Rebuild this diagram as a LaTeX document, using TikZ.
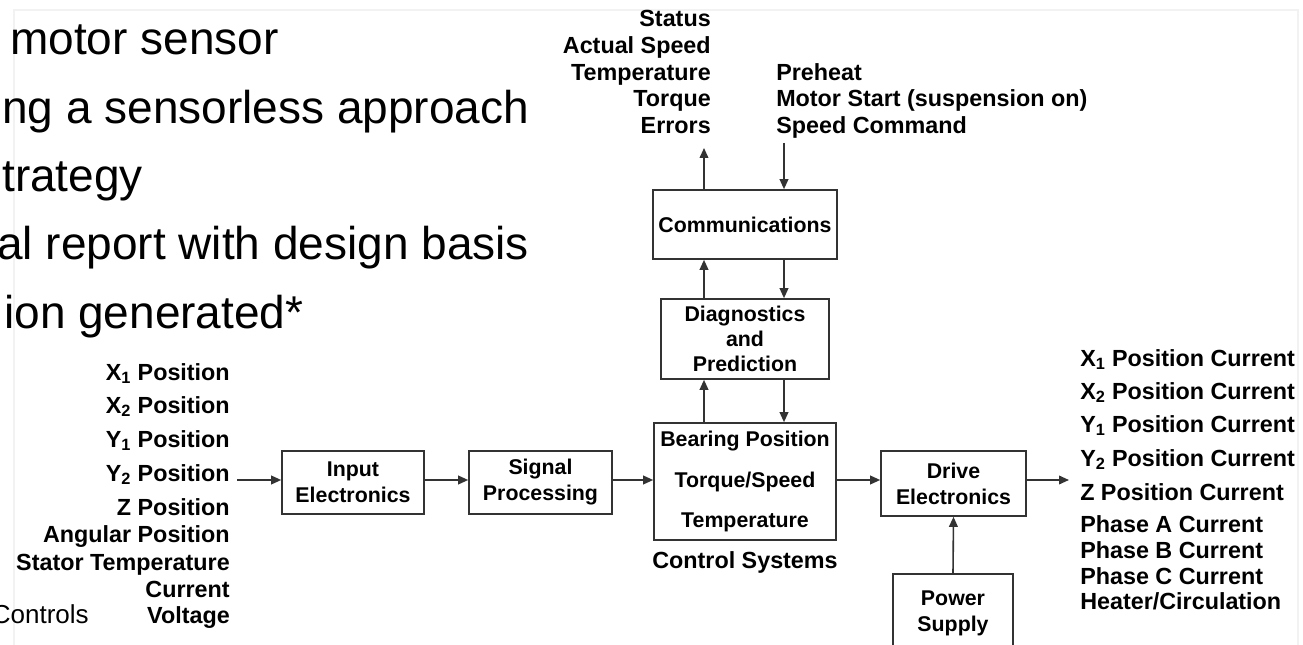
\documentclass[tikz,border=0pt]{standalone}
\usepackage{fontspec}
\setmainfont{Liberation Sans}
\usetikzlibrary{arrows.meta}
\begin{document}
\begin{tikzpicture}[x=0.75pt,y=-0.75pt,
  lbl/.style={font=\fontsize{17.5}{21}\selectfont\bfseries, inner sep=0pt, text=black},
  blk/.style={draw=black!80, line width=1.2pt, font=\fontsize{16}{19.5}\selectfont\bfseries, align=center, inner sep=0pt},
  bw/.style={minimum width=0.75*#1pt},
  bh/.style={minimum height=0.75*#1pt},
  arr/.style={draw=black!80, line width=1.2pt, -{Triangle[length=7.5pt,width=6.5pt]}},
  slide/.style={font=\fontsize{34.5}{40}\selectfont, inner sep=0pt, anchor=base west},
  faint/.style={draw=black!5, line width=0.8pt}]
\useasboundingbox (0,0) rectangle (1303,645);
% faint slide frame
\draw[faint] (14,645) -- (14,10) -- (1298,10) -- (1298,645);
% slide text (cropped)
\node[slide] (s1) at (10,55) {motor sensor};
\node[slide] (s2) at (2,123.5) {ng a sensorless approach};
\node[slide] (s3) at (2,192) {trategy};
\node[slide] (s4) at (-3,260) {al report with design basis};
\node[slide] (s5) at (4,329) {ion generated*};
\node[font=\fontsize{19.5}{23}\selectfont, inner sep=0pt, anchor=base east] (ctl) at (89,623) {Controls};
% input labels
\node[lbl,anchor=base east] (lx1) at (230,380) {X\textsubscript{1} Position};
\node[lbl,anchor=base east] (lx2) at (230,413) {X\textsubscript{2} Position};
\node[lbl,anchor=base east] (ly1) at (230,447) {Y\textsubscript{1} Position};
\node[lbl,anchor=base east] (ly2) at (230,481) {Y\textsubscript{2} Position};
\node[lbl,anchor=base east] (lz) at (230,515) {Z Position};
\node[lbl,anchor=base east] (lang) at (230,542) {Angular Position};
\node[lbl,anchor=base east] (lst) at (230,570) {Stator Temperature};
\node[lbl,anchor=base east] (lcur) at (230,597) {Current};
\node[lbl,anchor=base east] (lvol) at (230,623) {Voltage};
% blocks
\node[blk, bw=142, bh=63] (inel) at (353,482.5) {Input\\Electronics};
\node[blk, bw=143, bh=63] (sig) at (540.5,482.5) {Signal\\Processing};
\node[blk, bw=182, bh=117, font=\fontsize{16}{30.5}\selectfont\bfseries] (ctrl) at (745,481.5) {Bearing Position\\Torque/Speed\\Temperature};
\node[lbl, anchor=base] (csys) at (745,568) {Control Systems};
\node[blk, bw=168, bh=80, font=\fontsize{16}{18.75}\selectfont\bfseries] (diag) at (745,339) {Diagnostics\\and\\Prediction};
\node[blk, bw=184, bh=69] (comm) at (745,224.5) {Communications};
\node[blk, bw=145, bh=65] (drive) at (953.5,483.5) {Drive\\Electronics};
\node[blk, bw=120, bh=78] (power) at (953,613) {Power\\Supply};
% top labels
\node[lbl,anchor=base east] (tst) at (711,27) {Status};
\node[lbl,anchor=base east] (tas) at (711,54) {Actual Speed};
\node[lbl,anchor=base east] (tte) at (711,81) {Temperature};
\node[lbl,anchor=base east] (tto) at (711,107) {Torque};
\node[lbl,anchor=base east] (ter) at (711,134) {Errors};
\node[lbl,anchor=base west] (tph) at (776,81) {Preheat};
\node[lbl,anchor=base west] (tms) at (776,107) {Motor Start (suspension on)};
\node[lbl,anchor=base west] (tsc) at (776,134) {Speed Command};
% output labels
\node[lbl,anchor=base west] (rx1) at (1080,366) {X\textsubscript{1} Position Current};
\node[lbl,anchor=base west] (rx2) at (1080,399) {X\textsubscript{2} Position Current};
\node[lbl,anchor=base west] (ry1) at (1080,432) {Y\textsubscript{1} Position Current};
\node[lbl,anchor=base west] (ry2) at (1080,466) {Y\textsubscript{2} Position Current};
\node[lbl,anchor=base west] (rz) at (1080,500) {Z Position Current};
\node[lbl,anchor=base west] (rpa) at (1080,532) {Phase A Current};
\node[lbl,anchor=base west] (rpb) at (1080,558) {Phase B Current};
\node[lbl,anchor=base west] (rpc) at (1080,584) {Phase C Current};
\node[lbl,anchor=base west] (rhc) at (1080,609) {Heater/Circulation};
% coordinates
\coordinate (inS) at (237,480);
\coordinate (outR) at (1069,480);
\coordinate (upx) at (704,0);
\coordinate (dnx) at (784,0);
\coordinate (outT) at (704,148);
\coordinate (inT) at (784,143);
% connectors
\draw[arr] (inS) -- (inS -| inel.west);
\draw[arr] (inS -| inel.east) -- (inS -| sig.west);
\draw[arr] (inS -| sig.east) -- (inS -| ctrl.west);
\draw[arr] (inS -| ctrl.east) -- (inS -| drive.west);
\draw[arr] (inS -| drive.east) -- (outR);
\draw[arr] (power.north) -- (drive.south);
\draw[arr] (ctrl.north -| upx) -- (diag.south -| upx);
\draw[arr] (diag.south -| dnx) -- (ctrl.north -| dnx);
\draw[arr] (diag.north -| upx) -- (comm.south -| upx);
\draw[arr] (comm.south -| dnx) -- (diag.north -| dnx);
\draw[arr] (comm.north -| upx) -- (outT);
\draw[arr] (inT) -- (comm.north -| dnx);
\end{tikzpicture}
\end{document}
